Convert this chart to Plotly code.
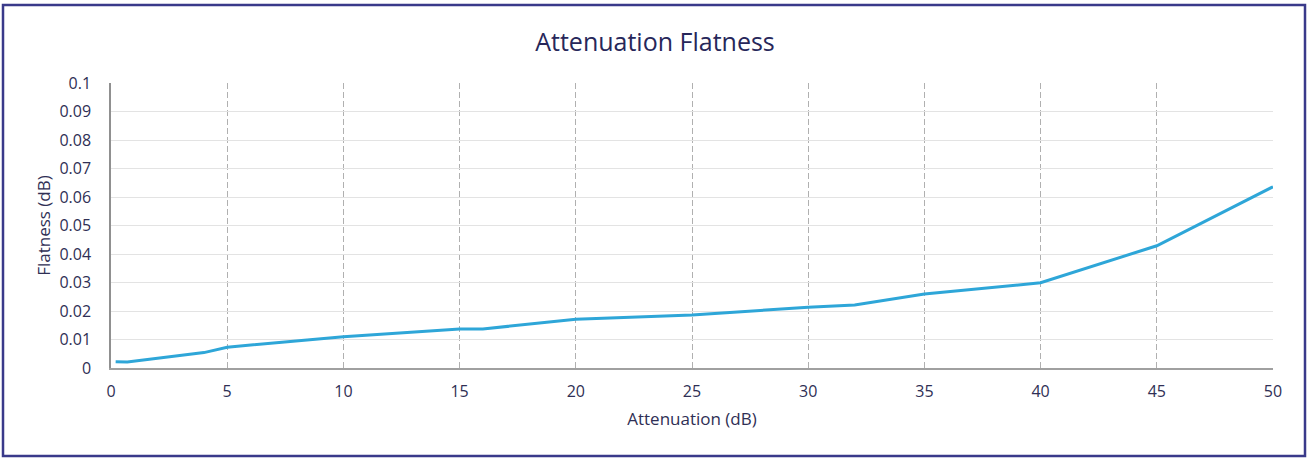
import plotly.graph_objects as go

attenuation_db = [0.2, 0.7, 4, 5, 10, 15, 16, 20, 25, 30, 32, 35, 40, 45, 50]
flatness_db = [0.0022, 0.0021, 0.0054, 0.0073, 0.0110, 0.0137, 0.0137, 0.0171,
               0.0186, 0.0213, 0.0221, 0.0260, 0.0299, 0.0429, 0.0636]

x_ticks = [0, 5, 10, 15, 20, 25, 30, 35, 40, 45, 50]
y_ticks = [0, 0.01, 0.02, 0.03, 0.04, 0.05, 0.06, 0.07, 0.08, 0.09, 0.1]
y_tick_text = ["0", "0.01", "0.02", "0.03", "0.04", "0.05", "0.06", "0.07", "0.08", "0.09", "0.1"]

W, H = 1310, 458
L, R, T, B = 111, 37, 83, 90
pw, ph = W - L - R, H - T - B

def px_x(p):
    return (p - L) / pw

def px_y(p):
    return (H - B - p) / ph

text_color = "#2f2f55"
font_family = "'Open Sans', sans-serif"

fig = go.Figure()
fig.add_trace(go.Scatter(
    x=attenuation_db, y=flatness_db, mode="lines",
    line=dict(color="#2ea6d8", width=3),
    showlegend=False,
))

fig.update_layout(
    width=W, height=H,
    margin=dict(l=L, r=R, t=T, b=B, pad=0),
    paper_bgcolor="white", plot_bgcolor="white",
    font=dict(family=font_family, color=text_color, size=16),
    title=dict(text="Attenuation Flatness", x=0.5, xanchor="center",
               y=1 - 42 / H, yanchor="middle",
               font=dict(size=25, color="#27275a", family=font_family)),
    xaxis=dict(
        range=[0, 50], tickvals=x_ticks, ticks="",
        showgrid=True, gridcolor="#b0b0b0", griddash="6px,3px", gridwidth=1,
        showline=True, linecolor="#a0a0a0", linewidth=1.5,
        zeroline=False, ticklabelstandoff=8,
        title=dict(text="Attenuation (dB)", standoff=12,
                   font=dict(size=17, color=text_color)),
        tickfont=dict(size=16, color=text_color),
    ),
    yaxis=dict(
        range=[0, 0.1], tickvals=y_ticks, ticktext=y_tick_text, ticks="",
        showgrid=True, gridcolor="#e3e3e3", gridwidth=1,
        showline=True, linecolor="#909090", linewidth=1.5,
        zeroline=False, ticklabelstandoff=15,
        title=dict(text="Flatness (dB)", standoff=4,
                   font=dict(size=17, color=text_color)),
        tickfont=dict(size=16, color=text_color),
    ),
)

# outer frame
fig.add_shape(type="rect", xref="paper", yref="paper",
              x0=px_x(3), x1=px_x(1305), y0=px_y(456), y1=px_y(5),
              line=dict(color="#3a3a8a", width=2.5), fillcolor="rgba(0,0,0,0)",
              layer="above")

fig.write_html("out.html", config={"displayModeBar": False},
               post_script="document.body.style.margin='0';document.body.style.padding='0';")
